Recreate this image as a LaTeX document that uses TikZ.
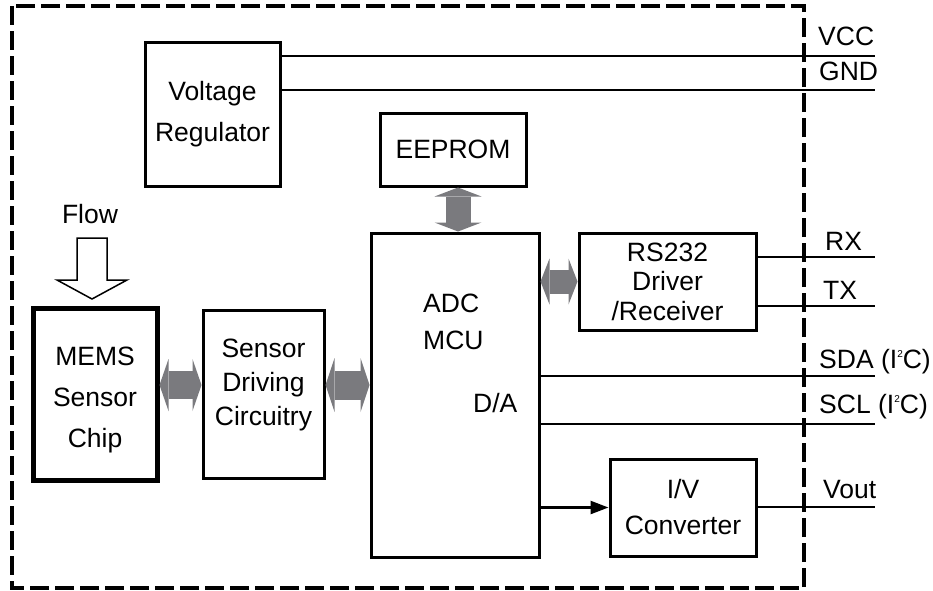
\documentclass[tikz,border=0pt]{standalone}
\usepackage{fontspec}
\setmainfont{Liberation Sans}
\usetikzlibrary{arrows.meta}
\definecolor{ArrGray}{HTML}{7A7A7E}
\newcommand{\lbl}{\fontsize{26.5}{31}\selectfont}
\newcommand{\iic}{I\raisebox{10.5pt}{\fontsize{10}{10}\selectfont 2}C}
\tikzset{
 blk/.style={draw,line width=3pt,align=center,inner sep=0pt,font=\lbl},
 chip/.style={blk,line width=5pt},
 txt/.style={inner sep=0pt,font=\lbl,align=left},
 pinlbl/.style={txt,anchor=base west},
 wire/.style={line width=1.5pt},
 sig/.style={line width=2.5pt,-{Triangle[length=18pt,width=13pt]}},
 bus/.style 2 args={draw=ArrGray,line width=#1,
   {Triangle[width=#2,length=9pt,line width=0pt]}-{Triangle[width=#2,length=9pt,line width=0pt]}},
 hollow/.style={draw,line width=1.5pt,fill=white,line join=miter},
 border/.style={line width=3.5pt,dash pattern=on 19pt off 6pt}
}
\begin{document}
\begin{tikzpicture}[x=1pt,y=-1pt]
\useasboundingbox (0,0) rectangle (933,590);
\draw[border] (12,6) rectangle (804,588);
% blocks
\node[blk,minimum width=135pt,minimum height=144pt,font=\fontsize{26.5}{41}\selectfont] (vreg) at (212.5,114) {Voltage\\Regulator};
\node[blk,minimum width=146pt,minimum height=73pt] (eeprom) at (453,149.5) {EEPROM};
\node[blk,minimum width=168pt,minimum height=324pt] (mcu) at (455,395) {};
\node[blk,minimum width=177pt,minimum height=97pt,font=\fontsize{26.5}{29.5}\selectfont] (rs232) at (667.5,281.5) {RS232\\Driver\\/Receiver};
\node[blk,minimum width=146pt,minimum height=97pt,font=\fontsize{26.5}{36}\selectfont] (ivc) at (683,507.5) {I/V\\Converter};
\node[chip,minimum width=124pt,minimum height=172pt,text height=113pt,font=\fontsize{26.5}{41}\selectfont] (mems) at (95,394) {MEMS\\Sensor\\Chip};
\node[blk,minimum width=121pt,minimum height=168pt,text depth=24pt,font=\fontsize{26.5}{34}\selectfont] (sdc) at (263.5,394) {Sensor\\Driving\\Circuitry};
\node[txt,anchor=north west,font=\fontsize{26.5}{37}\selectfont] (adc) at (423,293.5) {ADC\\MCU};
\node[pinlbl] (da) at (473,412) {D/A};
% gray buses
\draw[bus={25pt}{47pt}] ([xshift=5pt]eeprom.south) -- ([xshift=3pt]mcu.north);
\draw[bus={24pt}{46pt}] (rs232.west -| mcu.east) -- (rs232.west);
\draw[bus={28pt}{52pt}] ([yshift=9pt]mems.east) -- ([yshift=9pt]sdc.west);
\draw[bus={29pt}{54pt}] ([yshift=9pt]sdc.east) -- ([yshift=9pt]sdc.east -| mcu.west);
% outside lines
\coordinate (vcc) at (875,56);
\coordinate (gnd) at (875,90);
\coordinate (rx) at (875,257);
\coordinate (tx) at (875,306);
\coordinate (sda) at (875,376);
\coordinate (scl) at (875,424);
\coordinate (vout) at (875,507);
\draw[wire] (vreg.east |- vcc) -- (vcc);
\draw[wire] (vreg.east |- gnd) -- (gnd);
\draw[wire] (rs232.east |- rx) -- (rx);
\draw[wire] (rs232.east |- tx) -- (tx);
\draw[wire] (mcu.east |- sda) -- (sda);
\draw[wire] (mcu.east |- scl) -- (scl);
\draw[wire] (ivc.east |- vout) -- (vout);
\draw[sig] (mcu.east |- ivc) -- (ivc.west);
\node[pinlbl] (vcclbl) at (818,45) {VCC};
\node[pinlbl] (gndlbl) at (819,80) {GND};
\node[pinlbl] (rxlbl) at (825,250) {RX};
\node[pinlbl] (txlbl) at (823,299) {TX};
\node[pinlbl] (sdalbl) at (819,368) {SDA (\iic)};
\node[pinlbl] (scllbl) at (819,413) {SCL (\iic)};
\node[pinlbl] (voutlbl) at (823,498) {Vout};
% flow
\node[txt,anchor=base] (flowlbl) at (90,223) {Flow};
\draw[hollow] (77,238) -- ++(30,0) -- ++(0,42) -- ++(20,0) -- (92,299) -- (57,280) -- ++(20,0) -- cycle;
\end{tikzpicture}
\end{document}
